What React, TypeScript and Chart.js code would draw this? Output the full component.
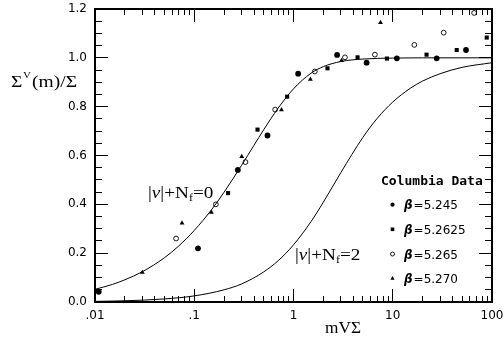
import React, { useEffect, useRef } from 'react';
import { Chart, registerables } from 'chart.js';

Chart.register(...registerables);

// Theory curve |nu|+Nf=0
const curve0X = [0.01, 0.015, 0.02, 0.03, 0.05, 0.07, 0.1, 0.15, 0.2, 0.3, 0.4, 0.5, 0.7, 1, 1.5, 2, 3, 5, 10, 20, 50, 100];
const curve0Y = [0.052, 0.072, 0.091, 0.124, 0.181, 0.230, 0.293, 0.379, 0.450, 0.560, 0.642, 0.705, 0.794, 0.873, 0.937, 0.964, 0.985, 0.995, 0.999, 1.0, 1.0, 1.0];

// Theory curve |nu|+Nf=2
const curve2X = [0.01, 0.02, 0.05, 0.1, 0.2, 0.3, 0.5, 0.7, 1, 1.5, 2, 3, 5, 7, 10, 15, 20, 30, 50, 100];
const curve2Y = [0.0025, 0.005, 0.0125, 0.025, 0.050, 0.074, 0.123, 0.169, 0.234, 0.329, 0.409, 0.530, 0.674, 0.753, 0.819, 0.875, 0.905, 0.935, 0.961, 0.980];

// Columbia data
const b5245X = [0.0109, 0.109, 0.275, 0.547, 1.114, 2.75, 5.45, 11.0, 27.7, 54.7];
const b5245Y = [0.042, 0.220, 0.541, 0.682, 0.935, 1.012, 0.980, 0.998, 0.998, 1.032];

const b52625X = [0.219, 0.434, 0.863, 2.20, 4.42, 8.73, 21.9, 44.1, 88.5];
const b52625Y = [0.446, 0.706, 0.841, 0.957, 1.002, 0.997, 1.013, 1.032, 1.083];

const b5265X = [0.0656, 0.165, 0.328, 0.653, 1.64, 3.30, 6.61, 16.5, 32.6, 66.0];
const b5265Y = [0.260, 0.400, 0.573, 0.788, 0.944, 1.002, 1.013, 1.053, 1.103, 1.184];

const b5270X = [0.030, 0.0753, 0.149, 0.301, 0.757, 1.48, 3.05, 7.53];
const b5270Y = [0.121, 0.323, 0.367, 0.596, 0.787, 0.912, 0.989, 1.144];

const xTickValues = [0.01, 0.1, 1, 10, 100];
const xTickLabels = ['.01', '.1', '1', '10', '100'];
const legendTitle = 'Columbia Data';
const legendLabels = ['5.245', '5.2625', '5.265', '5.270'];

const pts = (xs: number[], ys: number[]) => xs.map((x, i) => ({ x, y: ys[i] }));

const SERIF = '"Liberation Serif", "Times New Roman", serif';
const SANS = '"DejaVu Sans", sans-serif';

function drawMarker(ctx: CanvasRenderingContext2D, kind: number, x: number, y: number) {
  ctx.beginPath();
  if (kind === 0) {
    ctx.arc(x, y, 2.1, 0, Math.PI * 2);
    ctx.fill();
  } else if (kind === 1) {
    ctx.rect(x - 1.8, y - 1.8, 3.6, 3.6);
    ctx.fill();
  } else if (kind === 2) {
    ctx.arc(x, y, 2.0, 0, Math.PI * 2);
    ctx.lineWidth = 0.9;
    ctx.strokeStyle = '#000';
    ctx.stroke();
  } else {
    ctx.moveTo(x, y - 2.3);
    ctx.lineTo(x + 2.1, y + 1.5);
    ctx.lineTo(x - 2.1, y + 1.5);
    ctx.closePath();
    ctx.fill();
  }
}

// draws a sequence of text pieces with a horizontal stretch
function drawPieces(
  ctx: CanvasRenderingContext2D,
  x: number,
  y: number,
  sx: number,
  pieces: { t: string; font: string; dy?: number; dx?: number }[],
) {
  ctx.save();
  ctx.translate(x, y);
  ctx.scale(sx, 1);
  let cx = 0;
  for (const p of pieces) {
    ctx.font = p.font;
    cx += p.dx || 0;
    ctx.fillText(p.t, cx, p.dy || 0);
    cx += ctx.measureText(p.t).width;
  }
  ctx.restore();
}

function xPix(chart: any, v: number) {
  const s = chart.scales.x;
  let p = s ? s.getPixelForValue(v) : NaN;
  if (!Number.isFinite(p)) {
    const a = chart.chartArea;
    p = a.left + ((Math.log10(v) + 2) / 4) * (a.right - a.left);
  }
  return p;
}

function yPix(chart: any, v: number) {
  const s = chart.scales.y;
  let p = s ? s.getPixelForValue(v) : NaN;
  if (!Number.isFinite(p)) {
    const a = chart.chartArea;
    p = a.bottom - (v / 1.2) * (a.bottom - a.top);
  }
  return p;
}

const decorPlugin = {
  id: 'decor',
  afterDraw(chart: any) {
    const ctx: CanvasRenderingContext2D = chart.ctx;
    const a = chart.chartArea;
    ctx.save();
    ctx.fillStyle = '#000';
    const L = Math.round(a.left);
    const R = Math.round(a.right);
    const T = Math.round(a.top);
    const B = Math.round(a.bottom);
    // frame
    ctx.fillRect(L - 1, T - 1, R - L + 2, 2);
    ctx.fillRect(L - 1, B - 1, R - L + 2, 2);
    ctx.fillRect(L - 1, T - 1, 2, B - T + 2);
    ctx.fillRect(R - 1, T - 1, 2, B - T + 2);

    ctx.textBaseline = 'alphabetic';
    ctx.textAlign = 'left';

    // y-axis title
    drawPieces(ctx, 11, 87, 1.22, [
      { t: '\u03a3', font: `16px ${SERIF}` },
      { t: 'V', font: `9px ${SERIF}`, dy: -9, dx: 0.5 },
      { t: '(m)/\u03a3', font: `16px ${SERIF}`, dx: 1 },
    ]);

    // x-axis title
    drawPieces(ctx, 325, 333, 1.08, [{ t: 'mV\u03a3', font: `16px ${SERIF}` }]);

    // curve labels
    const nu = (n: string) => [
      { t: '|', font: `16px ${SERIF}` },
      { t: '\u03bd', font: `italic 16px ${SERIF}` },
      { t: '|+N', font: `16px ${SERIF}` },
      { t: 'f', font: `10px ${SERIF}`, dy: 3 },
      { t: '=' + n, font: `16px ${SERIF}` },
    ];
    drawPieces(ctx, 148, 198, 1.2, nu('0'));
    drawPieces(ctx, 295, 260, 1.2, nu('2'));

    // legend
    ctx.font = `bold 13px "DejaVu Sans Mono", monospace`;
    ctx.fillText(legendTitle, 381, 184.5);
    const rows = [204.7, 229.3, 254, 278.3];
    for (let i = 0; i < 4; i++) {
      drawMarker(ctx, i, 392.5, rows[i]);
      ctx.font = `bold italic 12px ${SANS}`;
      ctx.fillText('\u03b2', 404, rows[i] + 4.5);
      const bw = ctx.measureText('\u03b2').width;
      ctx.font = `12px ${SANS}`;
      ctx.fillText('=' + legendLabels[i], 404 + bw + 1, rows[i] + 4.5);
    }

    // inward ticks
    try {
      ctx.fillStyle = '#000';
      for (let d = 0; d < xTickValues.length; d++) {
        const base = xTickValues[d];
        for (let k = 1; k <= 9; k++) {
          if (d === xTickValues.length - 1 && k > 1) break;
          const px = Math.floor(xPix(chart, base * k));
          const len = k === 1 ? 13 : 6;
          ctx.fillRect(px, B - len, 1, len);
          ctx.fillRect(px, T, 1, len);
        }
      }
      for (let i = 0; i <= 24; i++) {
        const py = Math.floor(yPix(chart, i * 0.05));
        const len = i % 4 === 0 ? 13 : 7;
        ctx.fillRect(L, py, len, 1);
        ctx.fillRect(R - len, py, len, 1);
      }
    } catch (e) {
      // ignore
    }
    ctx.restore();
  },
};

export default function App() {
  const ref = useRef<HTMLCanvasElement>(null);
  useEffect(() => {
    if (!ref.current) return;
    const black = '#000';
    const chart = new Chart(ref.current, {
      type: 'scatter',
      data: {
        datasets: [
          {
            label: '|nu|+Nf=0',
            data: pts(curve0X, curve0Y),
            showLine: true,
            borderColor: black,
            borderWidth: 1,
            pointRadius: 0,
            cubicInterpolationMode: 'monotone',
          } as any,
          {
            label: '|nu|+Nf=2',
            data: pts(curve2X, curve2Y),
            showLine: true,
            borderColor: black,
            borderWidth: 1,
            pointRadius: 0,
            cubicInterpolationMode: 'monotone',
          } as any,
          {
            label: 'beta=5.245',
            data: pts(b5245X, b5245Y),
            pointStyle: 'circle',
            pointRadius: 2.9,
            backgroundColor: black,
            borderColor: black,
            borderWidth: 0,
          },
          {
            label: 'beta=5.2625',
            data: pts(b52625X, b52625Y),
            pointStyle: 'rect',
            pointRadius: 2.9,
            backgroundColor: black,
            borderColor: black,
            borderWidth: 0,
          },
          {
            label: 'beta=5.265',
            data: pts(b5265X, b5265Y),
            pointStyle: 'circle',
            pointRadius: 2.4,
            backgroundColor: '#fff',
            borderColor: black,
            borderWidth: 0.9,
          },
          {
            label: 'beta=5.270',
            data: pts(b5270X, b5270Y),
            pointStyle: 'triangle',
            pointRadius: 2.8,
            backgroundColor: black,
            borderColor: black,
            borderWidth: 0,
          },
        ],
      },
      options: {
        responsive: false,
        animation: false,
        devicePixelRatio: 1,
        layout: { padding: { left: 0, right: 12, top: 9, bottom: 0 } },
        plugins: { legend: { display: false }, tooltip: { enabled: false } },
        events: [],
        scales: {
          x: {
            type: 'logarithmic',
            min: 0.01,
            max: 100,
            grid: { display: false, drawTicks: false },
            border: { display: false },
            afterBuildTicks: (scale: any) => {
              scale.ticks = xTickValues.map((v) => ({ value: v }));
            },
            afterFit: (scale: any) => {
              scale.height = 37;
              scale.paddingLeft = 0;
              scale.paddingRight = 0;
            },
            ticks: {
              autoSkip: false,
              maxRotation: 0,
              padding: 7,
              color: black,
              font: { family: 'DejaVu Sans', size: 12 },
              callback: (_v: any, i: number) => xTickLabels[i],
            },
          },
          y: {
            type: 'linear',
            min: 0,
            max: 1.2,
            grid: { display: false, drawTicks: false },
            border: { display: false },
            afterFit: (scale: any) => {
              scale.width = 95;
              scale.paddingTop = 0;
              scale.paddingBottom = 0;
            },
            ticks: {
              stepSize: 0.2,
              padding: 8,
              color: black,
              font: { family: 'DejaVu Sans', size: 12 },
              callback: (v: any) => Number(v).toFixed(1),
            },
          },
        },
      },
      plugins: [decorPlugin],
    } as any);
    return () => chart.destroy();
  }, []);
  return (
    <div style={{ position: 'fixed', left: 0, top: 0, width: 504, height: 339, background: '#fff' }}>
      <canvas ref={ref} width={504} height={339} style={{ display: 'block', width: 504, height: 339 }} />
    </div>
  );
}
